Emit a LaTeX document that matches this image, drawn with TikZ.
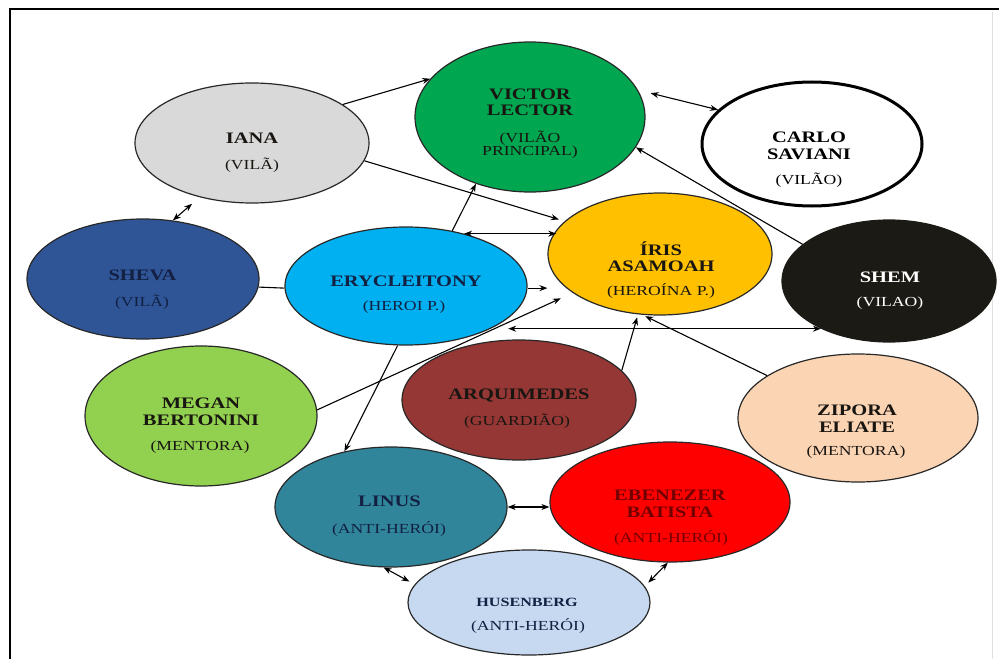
\documentclass[tikz,border=0pt]{standalone}
\usepackage{fontspec}
\setmainfont{Liberation Serif}[FakeStretch=1.28]
\usetikzlibrary{shapes.geometric,arrows.meta,calc}

% fill colours of the characters
\definecolor{cIana}{RGB}{217,217,217}
\definecolor{cVictor}{RGB}{0,166,80}
\definecolor{cSheva}{RGB}{47,85,151}
\definecolor{cEry}{RGB}{0,176,240}
\definecolor{cIris}{RGB}{255,192,0}
\definecolor{cShem}{RGB}{28,26,20}
\definecolor{cMegan}{RGB}{146,208,80}
\definecolor{cArq}{RGB}{149,55,53}
\definecolor{cZip}{RGB}{251,212,180}
\definecolor{cLinus}{RGB}{49,133,155}
\definecolor{cEben}{RGB}{255,0,0}
\definecolor{cHus}{RGB}{198,217,241}
% outline and text colours
\definecolor{borda}{RGB}{40,40,40}
\definecolor{tinta}{RGB}{25,22,18}
\definecolor{marinho}{RGB}{18,32,66}
\definecolor{vinho}{RGB}{115,0,0}

\tikzset{
  elipse/.style={ellipse, draw=borda, line width=1.2bp, inner sep=0pt},
  nome/.style={font=\fontsize{16bp}{16.5bp}\selectfont\bfseries, align=center,
               inner sep=0pt, text=tinta},
  papel/.style={font=\fontsize{13.8bp}{12bp}\selectfont, align=center,
                inner sep=0pt, text=tinta},
  ponta/.tip={Stealth[length=8bp,width=6bp]},
  liga/.style={line width=1.1bp, -ponta},
  duplo/.style={line width=1.1bp, ponta-ponta},
  simples/.style={line width=1.1bp},
}

\begin{document}
\begin{tikzpicture}[x=1bp,y=-1bp]
\useasboundingbox (0,0) rectangle (999,659);

% frame
\draw[line width=2bp] (9.5,659) -- (9.5,9.5) -- (999,9.5);
\draw[line width=1bp, black!12] (992,12) -- (992,659);

% characters
\node[elipse, fill=cIana,   minimum width=234bp, minimum height=120bp] (iana)   at (252,143) {};
\node[elipse, fill=cVictor, minimum width=230bp, minimum height=150bp] (victor) at (530,117) {};
\node[elipse, fill=white, draw=black, line width=3bp,
      minimum width=220bp, minimum height=124bp] (carlo) at (812,144) {};
\node[elipse, fill=cSheva,  minimum width=232bp, minimum height=120bp] (sheva)  at (143,279) {};
\node[elipse, fill=cEry,    minimum width=242bp, minimum height=118bp] (ery)    at (406,286) {};
\node[elipse, fill=cIris,   minimum width=224bp, minimum height=122bp] (iris)   at (660,254) {};
\node[elipse, fill=cShem, draw=cShem, minimum width=214bp, minimum height=122bp] (shem) at (889,281) {};
\node[elipse, fill=cMegan,  minimum width=232bp, minimum height=140bp] (megan)  at (201,416) {};
\node[elipse, fill=cArq,    minimum width=234bp, minimum height=120bp] (arq)    at (519,400) {};
\node[elipse, fill=cZip,    minimum width=240bp, minimum height=128bp] (zip)    at (858,418) {};
\node[elipse, fill=cLinus,  minimum width=232bp, minimum height=120bp] (linus)  at (391,507) {};
\node[elipse, fill=cEben,   minimum width=240bp, minimum height=120bp] (eben)   at (670,502) {};
\node[elipse, fill=cHus,    minimum width=242bp, minimum height=105bp] (hus)    at (529,602.5) {};

% names and roles
\node[nome] (iana-n) at (252,138) {IANA};
\node[papel] (iana-p) at (252,165) {(VILÃ)};
\node[nome] (victor-n) at (530,102.5) {VICTOR\\LECTOR};
\node[papel] (victor-p) at (530,144.5) {(VILÃO\\PRINCIPAL)};
\node[nome, text=black] (carlo-n) at (809,146) {CARLO\\SAVIANI};
\node[papel, text=black] (carlo-p) at (809,180) {(VILÃO)};
\node[nome, text=marinho] (sheva-n) at (142.5,275) {SHEVA};
\node[papel, text=marinho] (sheva-p) at (142,302) {(VILÃ)};
\node[nome, text=marinho] (ery-n) at (406,281) {ERYCLEITONY};
\node[papel, text=marinho] (ery-p) at (404,307) {(HEROI P.)};
\node[nome] (iris-n) at (661,256.5) {ÍRIS\\ASAMOAH};
\node[papel] (iris-p) at (661,291) {(HEROÍNA P.)};
\node[nome, text=white] (shem-n) at (890,277) {SHEM};
\node[papel, text=white] (shem-p) at (890,303) {(VILAO)};
\node[nome] (megan-n) at (201,412) {MEGAN\\BERTONINI};
\node[papel] (megan-p) at (200,447) {(MENTORA)};
\node[nome] (arq-n) at (519,395) {ARQUIMEDES};
\node[papel] (arq-p) at (517,421) {(GUARDIÃO)};
\node[nome] (zip-n) at (857,418.5) {ZIPORA\\ELIATE};
\node[papel] (zip-p) at (856,452) {(MENTORA)};
\node[nome, text=marinho] (linus-n) at (389.5,501) {LINUS};
\node[papel, text=marinho] (linus-p) at (389,529) {(ANTI-HERÓI)};
\node[nome, text=vinho] (eben-n) at (670,504) {EBENEZER\\BATISTA};
\node[papel, text=vinho] (eben-p) at (671,538) {(ANTI-HERÓI)};
\node[nome, text=marinho, font=\fontsize{12.6bp}{13bp}\selectfont\bfseries] (hus-n) at (527,602) {HUSENBERG};
\node[papel, text=marinho] (hus-p) at (528,626) {(ANTI-HERÓI)};

% relations
\draw[liga] (iana.23) -- (victor.159);
\draw[liga, shorten >=6bp] (iana.-9) -- (iris.161);
\draw[duplo, shorten <=10bp] (iana.-134) -- (sheva.63);
\draw[simples] (sheva.-4) -- (ery.181);
\draw[liga] (ery.50) -- (victor.-129);
\draw[duplo] (ery.42) -- (ery.42 -| iris.167);
\draw[liga] (ery.-1) -- (ery.-1 -| iris.west);
\draw[liga, shorten >=13bp] (megan.3) -- (iris.-156);
\draw[duplo, shorten >=16bp] (shem.-145) -- (shem.-145 -| ery.-26);
\draw[liga] (shem.157) -- (victor.-16);
\draw[duplo, shorten >=13bp] (carlo.160) -- (victor.14);
\draw[liga, shorten >=3bp] (arq.16) -- (iris.-110);
\draw[liga, shorten >=3bp] (zip.155) -- (iris.-106);
\draw[liga] (ery.-98) -- (linus.130);
\draw[duplo] (linus.east) -- (linus.east -| eben.west);
\draw[duplo, shorten >=6bp] (linus.-97) -- (hus.171);
\draw[duplo, shorten >=5bp] (eben.-92) -- (hus.8);
\end{tikzpicture}
\end{document}
